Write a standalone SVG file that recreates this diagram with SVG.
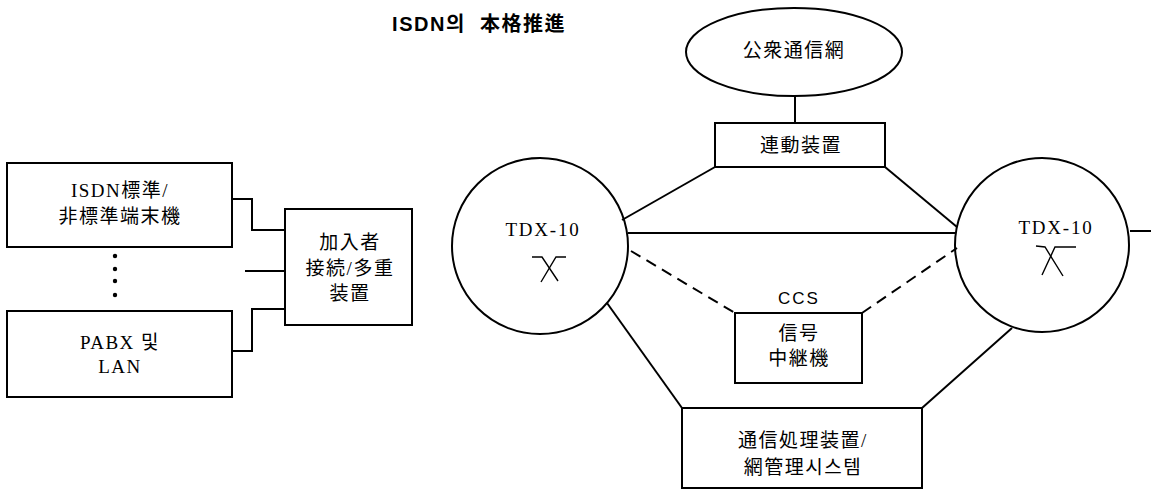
<svg xmlns="http://www.w3.org/2000/svg" width="1151" height="492" viewBox="0 0 1151 492">
<style>
.box{fill:#fff;stroke:#000;stroke-width:2}
.ln{fill:none;stroke:#000;stroke-width:2}
.sym{fill:none;stroke:#000;stroke-width:1.4}
.dash{fill:none;stroke:#000;stroke-width:2;stroke-dasharray:11 7}
.t{font-family:"Liberation Serif","Noto Sans CJK JP","Noto Sans CJK KR",serif;font-size:19px;letter-spacing:1.5px;fill:#000;text-anchor:middle;dominant-baseline:central}
.s{font-family:"Liberation Sans","Noto Sans CJK KR",sans-serif;font-size:17px;letter-spacing:2px;fill:#000;text-anchor:middle;dominant-baseline:central}
.ti{font-size:20px;letter-spacing:1.5px;font-weight:bold}
.tdx{letter-spacing:1.8px}
</style>
<rect width="1151" height="492" fill="#fff"/>
<text id="title" class="s ti" x="479" y="24" xml:space="preserve">ISDN의  本格推進</text>
<g id="connectors">
<polyline class="ln" points="232,199 252,199 252,230 285,230"/>
<line class="ln" x1="245" y1="271" x2="285" y2="271"/>
<polyline class="ln" points="285,309 252,309 252,351 232,351"/>
<line class="ln" x1="795" y1="96" x2="795" y2="123"/>
<line class="ln" x1="715" y1="167" x2="622" y2="220"/>
<line class="ln" x1="885" y1="167" x2="957" y2="227"/>
<line class="ln" x1="628" y1="233" x2="955" y2="233"/>
<line class="dash" x1="631" y1="251" x2="735" y2="313"/>
<line class="dash" x1="862" y1="313" x2="957" y2="248"/>
<line class="ln" x1="607" y1="303" x2="682" y2="408"/>
<line class="ln" x1="922" y1="408" x2="1012" y2="328"/>
<line class="ln" x1="1130" y1="231" x2="1151" y2="231"/>
</g>
<g id="terminal">
<rect class="box" x="7" y="163" width="225" height="84"/>
<text class="t" x="120" y="190">ISDN標準/</text>
<text class="t" x="120" y="216">非標準端末機</text>
</g>
<g id="dots">
<circle cx="115" cy="256" r="2.2"/>
<circle cx="115" cy="269" r="2.2"/>
<circle cx="115" cy="281" r="2.2"/>
<circle cx="115" cy="295" r="2.2"/>
</g>
<g id="pabx">
<rect class="box" x="7" y="311" width="225" height="86"/>
<text class="t" x="120" y="342">PABX 및</text>
<text class="t" x="120" y="366">LAN</text>
</g>
<g id="subscriber">
<rect class="box" x="285" y="209" width="127" height="116"/>
<text class="t" x="350" y="242">加入者</text>
<text class="t" x="350" y="268">接続/多重</text>
<text class="t" x="350" y="293">装置</text>
</g>
<g id="tdx-left">
<circle class="ln" cx="540" cy="246" r="88"/>
<text class="t tdx" x="543" y="229">TDX-10</text>
<polyline class="sym" points="532,257 542,257 558,281"/>
<polyline class="sym" points="566,257 556,257 541,282"/>
</g>
<g id="tdx-right">
<circle class="ln" cx="1042" cy="245" r="87"/>
<text class="t tdx" x="1056" y="227">TDX-10</text>
<polyline class="sym" points="1036,246 1045,247 1063,276"/>
<polyline class="sym" points="1076,247 1055,247 1042,275"/>
</g>
<g id="public-net">
<ellipse class="box" cx="794" cy="52" rx="108" ry="44"/>
<text class="t" x="794" y="50">公衆通信網</text>
</g>
<g id="interlock">
<rect class="box" x="715" y="123" width="170" height="44"/>
<text class="t" x="801" y="145">連動装置</text>
</g>
<g id="signal">
<text class="s" x="799" y="298">CCS</text>
<rect class="box" x="735" y="313" width="127" height="70"/>
<text class="t" x="799" y="333">信号</text>
<text class="t" x="799" y="358">中継機</text>
</g>
<g id="processing">
<rect class="box" x="682" y="408" width="240" height="80"/>
<text class="t" x="803" y="440">通信処理装置/</text>
<text class="t" x="803" y="467">網管理시스템</text>
</g>
</svg>
